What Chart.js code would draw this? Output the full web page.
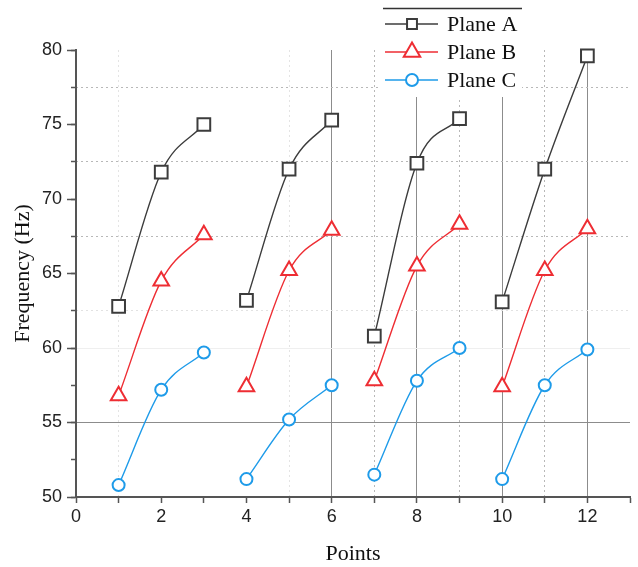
<!DOCTYPE html>
<html>
<head>
<meta charset="utf-8">
<script src="https://cdn.jsdelivr.net/npm/chart.js@4.4.1/dist/chart.umd.min.js"></script>
<style>
  html, body { margin: 0; padding: 0; background: #fff; }
  #wrap { width: 638px; height: 567px; }
</style>
</head>
<body>
<div id="wrap"><canvas id="freq" width="638" height="567"></canvas></div>
<script>
// measurement points, three per group
const points = [1, 2, 3, 4, 5, 6, 7, 8, 9, 10, 11, 12];
const groupSize = 3;

// frequencies (Hz) per plane
const planeA = [62.8, 71.8, 75.0, 63.2, 72.0, 75.3, 60.8, 72.4, 75.4, 63.1, 72.0, 79.6];
const planeB = [56.8, 64.5, 67.6, 57.4, 65.2, 67.9, 57.8, 65.5, 68.3, 57.4, 65.2, 68.0];
const planeC = [50.8, 57.2, 59.7, 51.2, 55.2, 57.5, 51.5, 57.8, 60.0, 51.2, 57.5, 59.9];

// axis ranges and tick steps
const xRange = [0, 13];
const yRange = [50, 80];
const xStep = 1;
const yMajorStep = 5;
const yMinorStep = 2.5;

// reference lines
const xSolid = [6, 8, 10, 12];
const xDotted = [7, 9, 11];
const xFaint = [1, 5];
const ySolid = [55];
const yDotted = [67.5, 72.5, 77.5];
const yFaint = [62.5];
const yFaintSolid = [60];

const fontSans = "'Liberation Sans', Arial, sans-serif";
const fontSerif = "'Liberation Serif', 'Times New Roman', serif";
const axisColor = '#555';

// split into groups so each group gets its own curve
function groupedSeries(values) {
  const out = [];
  values.forEach((v, i) => {
    out.push({ x: points[i], y: v });
    if ((i + 1) % groupSize === 0 && i < values.length - 1) {
      out.push({ x: points[i] + 0.5, y: null });
    }
  });
  return out;
}

function xGridColor(ctx) {
  if (!ctx.tick) return 'transparent';
  const v = ctx.tick.value;
  if (xSolid.includes(v)) return '#8c8c8c';
  if (xDotted.includes(v)) return '#b8b8b8';
  if (xFaint.includes(v)) return '#e4e4e4';
  return 'transparent';
}

function yGridColor(ctx) {
  if (!ctx.tick) return 'transparent';
  const v = ctx.tick.value;
  if (ySolid.includes(v)) return '#8c8c8c';
  if (yDotted.includes(v)) return '#b8b8b8';
  if (yFaint.includes(v)) return '#e2e2e2';
  if (yFaintSolid.includes(v)) return '#efefef';
  return 'transparent';
}

const dotted = [2, 3];

// legend drawn in a white box over the top of the plot
const boxLegend = {
  id: 'boxLegend',
  afterDraw(chart) {
    const ctx = chart.ctx;
    const left = 381, right = 522, bottom = 97;
    ctx.save();
    ctx.fillStyle = '#fff';
    ctx.fillRect(left, 0, right - left, bottom);
    ctx.strokeStyle = '#333';
    ctx.lineWidth = 1.5;
    ctx.beginPath();
    ctx.moveTo(left + 2, 8.5);
    ctx.lineTo(right, 8.5);
    ctx.stroke();

    const legendSizes = [7, 9.5, 6];
    chart.data.datasets.forEach((ds, i) => {
      const y = 24 + i * 28;
      ctx.strokeStyle = ds.borderColor;
      ctx.lineWidth = 1.5;
      ctx.beginPath();
      ctx.moveTo(385, y);
      ctx.lineTo(438, y);
      ctx.stroke();
      ctx.fillStyle = '#fff';
      ctx.strokeStyle = ds.pointBorderColor;
      ctx.lineWidth = 2;
      Chart.helpers.drawPoint(ctx, {
        pointStyle: ds.pointStyle,
        radius: legendSizes[i],
        rotation: 0,
        borderWidth: 2
      }, 412, y);
      ctx.fillStyle = '#111';
      ctx.font = '22px ' + fontSerif;
      ctx.textAlign = 'left';
      ctx.textBaseline = 'middle';
      ctx.fillText(ds.label, 447, y + 1);
    });
    ctx.restore();
  }
};

function makeDataset(label, values, color, style, radius) {
  return {
    label: label,
    data: groupedSeries(values),
    borderColor: color,
    backgroundColor: '#fff',
    borderWidth: 1.4,
    pointStyle: style,
    pointRadius: radius,
    pointBorderColor: color,
    pointBackgroundColor: '#fff',
    pointBorderWidth: 2,
    cubicInterpolationMode: 'monotone',
    spanGaps: false,
    clip: false,
    yAxisID: 'y'
  };
}

new Chart(document.getElementById('freq'), {
  type: 'line',
  data: {
    datasets: [
      makeDataset('Plane A', planeA, '#3c3c3c', 'rect', 9),
      makeDataset('Plane B', planeB, '#ee2d33', 'triangle', 9),
      makeDataset('Plane C', planeC, '#1e9be9', 'circle', 6)
    ]
  },
  options: {
    responsive: false,
    animation: false,
    layout: {
      autoPadding: false,
      padding: { top: 50, right: 8, left: 0, bottom: 0 }
    },
    plugins: {
      legend: { display: false },
      tooltip: { enabled: false }
    },
    scales: {
      x: {
        type: 'linear',
        min: xRange[0],
        max: xRange[1],
        afterFit: (s) => {
          s.height = 70;
          s.paddingLeft = 0;
          s.paddingRight = 0;
        },
        ticks: {
          stepSize: xStep,
          autoSkip: false,
          maxRotation: 0,
          padding: 3,
          color: '#222',
          font: { family: fontSans, size: 18 },
          callback: (v) => (v % 2 === 0 ? String(v) : '')
        },
        grid: {
          color: xGridColor,
          lineWidth: 1,
          tickColor: axisColor,
          tickLength: 6,
          tickWidth: 1.5
        },
        border: {
          color: axisColor,
          width: 2,
          dash: (ctx) => (ctx.tick && (xDotted.includes(ctx.tick.value) || xFaint.includes(ctx.tick.value)) ? dotted : [])
        },
        title: {
          display: true,
          text: 'Points',
          color: '#111',
          font: { family: fontSerif, size: 22 },
          padding: { top: 0, bottom: 0 }
        }
      },
      y: {
        type: 'linear',
        position: 'left',
        weight: 1,
        min: yRange[0],
        max: yRange[1],
        afterFit: (s) => { s.width = 76; },
        ticks: {
          stepSize: yMajorStep,
          padding: 5,
          color: '#222',
          font: { family: fontSans, size: 18 }
        },
        grid: {
          drawOnChartArea: false,
          tickColor: axisColor,
          tickLength: 9,
          tickWidth: 1.5
        },
        border: { color: axisColor, width: 2 },
        title: {
          display: true,
          text: 'Frequency (Hz)',
          color: '#111',
          font: { family: fontSerif, size: 22 },
          padding: { top: 10, bottom: 0 }
        }
      },
      yMinor: {
        type: 'linear',
        position: 'left',
        weight: 0,
        min: yRange[0],
        max: yRange[1],
        afterFit: (s) => { s.width = 0; },
        ticks: { stepSize: yMinorStep, display: false },
        grid: {
          color: yGridColor,
          lineWidth: 1,
          tickColor: axisColor,
          tickLength: 5,
          tickWidth: 1.5
        },
        border: {
          display: false,
          dash: (ctx) => (ctx.tick && (yDotted.includes(ctx.tick.value) || yFaint.includes(ctx.tick.value)) ? dotted : [])
        }
      }
    }
  },
  plugins: [boxLegend]
});
</script>
</body>
</html>
